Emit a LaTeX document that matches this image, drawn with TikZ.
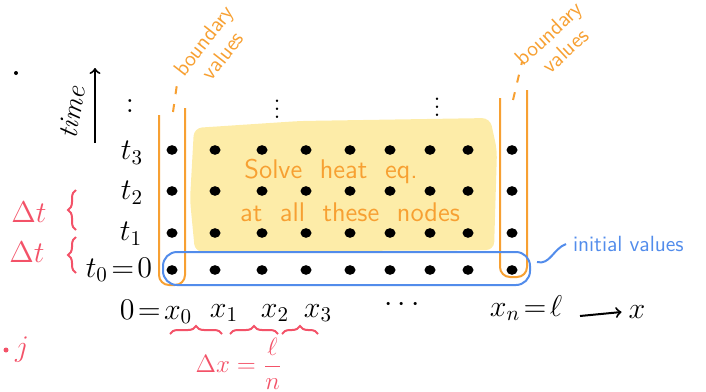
\documentclass[tikz,border=0pt]{standalone}
\usepackage{fix-cm}
\usepackage{tikz}
\usetikzlibrary{decorations.pathreplacing}

\definecolor{penorange}{RGB}{247,160,50}
\definecolor{penyellow}{RGB}{253,236,168}
\definecolor{penblue}{RGB}{82,140,235}
\definecolor{penred}{RGB}{243,82,104}

\tikzset{
    lbl/.style={font=\fontsize{15}{18}\selectfont},
    note/.style={font=\sffamily\fontsize{13.5}{16}\selectfont},
    smallnote/.style={font=\sffamily\fontsize{11}{12}\selectfont},
    bndline/.style={penorange,line width=1pt,rounded corners=5pt},
    inibox/.style={penblue,line width=1pt,rounded corners=7pt},
    redbrace/.style={penred,line width=1pt,decorate,decoration={brace,amplitude=4pt}},
}

\begin{document}
\begin{tikzpicture}[x=0.5pt,y=-0.5pt]
\useasboundingbox (0,0) rectangle (706,391);

% nodes that get solved
\fill[penyellow,rounded corners=4pt] (194,128) -- (300,121) -- (490,118) -- (497,150)
    -- (494,250) -- (195,252) -- (190,200) -- cycle;

% grid points
\foreach \y in {150,191,233,270}{
    \foreach \x in {172,215,262,306,350,390,430,468,512}{
        \fill (\x,\y) circle[x radius=5.5,y radius=4.8];
    }
}

% boundary columns
\draw[bndline] (159,115) -- (159,285) -- (185,285) -- (185,108);
\draw[bndline] (500,98) -- (500,277) -- (527,277) -- (527,90);
\draw[penorange,line width=1pt,dash pattern=on 4pt off 5pt] (173,112) -- (177,84);
\draw[penorange,line width=1pt,dash pattern=on 4pt off 5pt] (513,100) -- (522,62);
\node[smallnote,penorange,rotate=52,align=center] (lbnd) at (213,48) {boundary\\values};
\node[smallnote,penorange,rotate=43,align=center] (rbnd) at (557,42) {boundary\\values};

% initial values
\draw[inibox] (163,252) rectangle (530,285);
\coordinate (ivfoot) at (537,262);
\node[smallnote,penblue,anchor=west] (inival) at (566,244) {initial values};
\draw[penblue,line width=1pt] (ivfoot) to[out=-15,in=200] (inival.west);

\node[note,penorange] (solve) at (331,171) {Solve \ heat \ eq.};
\node[note,penorange] (allnodes) at (350,212) {at \ all \ these \ nodes};

\node[lbl] (vdmid) at (277,103) {$\vdots$};
\node[lbl] (vdright) at (437,101) {$\vdots$};

% time axis
\node[lbl] (vdleft) at (130,106) {$:$};
\node[lbl] (t3) at (132,153) {$t_3$};
\node[lbl] (t2) at (132,193) {$t_2$};
\node[lbl] (t1) at (131,234) {$t_1$};
\node[lbl] (t0) at (119,270) {$t_0\!=\!0$};
\coordinate (tfoot) at (95,143);
\coordinate (ttop) at (95,68);
\draw[->,line width=1pt] (tfoot) -- (ttop);
\node[font=\itshape\fontsize{14}{16}\selectfont,rotate=80] (time) at (72,112) {time};

% space axis
\node[lbl] (x0) at (156,312) {$0\!=\!x_0$};
\node[lbl] (x1) at (224,313) {$x_1$};
\node[lbl] (x2) at (275,313) {$x_2$};
\node[lbl] (x3) at (318,313) {$x_3$};
\node[lbl] (xdots) at (402,305) {$\cdots$};
\node[lbl] (xn) at (526,308) {$x_n\!=\!\ell$};
\node[lbl] (xaxis) at (637,312) {$x$};
\coordinate (xfoot) at (580,316);
\draw[->,line width=1pt] (xfoot) -- (xaxis.west);

% step sizes
\draw[redbrace] (170,334) -- (222,334);
\draw[redbrace] (230,334) -- (278,334);
\draw[redbrace] (282,334) -- (318,334);
\draw[redbrace] (76,230) -- (76,190);
\draw[redbrace] (76,273) -- (76,237);
\node[lbl,penred] (dt1) at (29,212) {$\Delta t$};
\node[lbl,penred] (dt2) at (27,252) {$\Delta t$};
\node[font=\fontsize{12.5}{15}\selectfont,penred] (dx) at (239,364) {$\Delta x=\displaystyle\frac{\ell}{n}$};
\fill[penred] (6,350) circle[radius=2.5];
\node[lbl,penred] (jj) at (22,350) {$j$};

\fill (16,73) circle[radius=2];

\end{tikzpicture}
\end{document}
